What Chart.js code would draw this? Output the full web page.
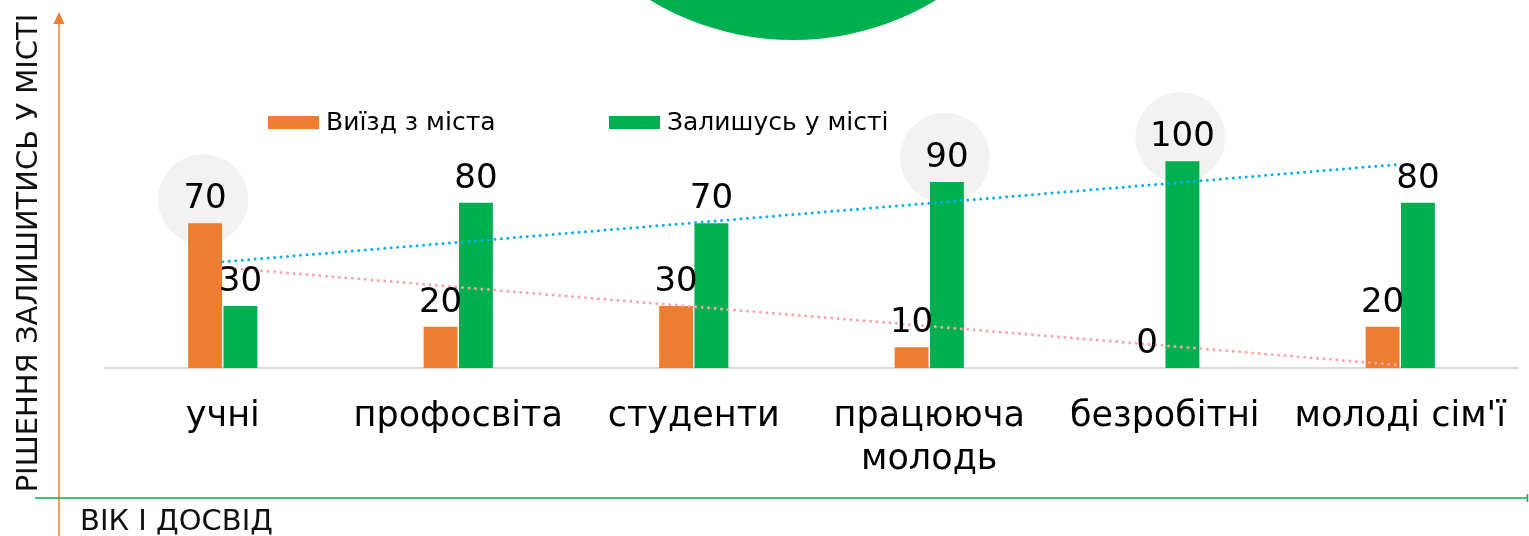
<!DOCTYPE html>
<html>
<head>
<meta charset="utf-8">
<script src="https://cdn.jsdelivr.net/npm/chart.js@4"></script>
<style>
  body { margin: 0; background: #fff; }
  #wrap { width: 1529px; height: 536px; }
</style>
</head>
<body>
<div id="wrap"><canvas id="chartCanvas" width="1529" height="536"></canvas></div>
<script>
// data
const categories = ['учні', 'профосвіта', 'студенти', ['працююча', 'молодь'], 'безробітні', 'молоді сім\'ї'];
const leaveCity = [70, 20, 30, 10, 0, 20];
const stayCity = [30, 80, 70, 90, 100, 80];
// dotted trend lines, only the ends
const leaveTrend = [48.6, null, null, null, null, 1.4];
const stayTrend = [51.4, null, null, null, null, 98.6];
// [dataset, index] of the values with a grey disc behind them
const highlighted = [[0, 0], [1, 3], [1, 4]];

const orange = '#ed7d31';
const green = '#00b050';
const fontName = '"DejaVu Sans", sans-serif';

// grey discs behind some labels, big green circle at the top
const backdrop = {
  id: 'backdrop',
  beforeDraw(chart) {
    const ctx = chart.ctx;
    ctx.save();
    ctx.fillStyle = green;
    ctx.beginPath();
    ctx.arc(793, -236, 276, 0, Math.PI * 2);
    ctx.fill();
    ctx.restore();
  },
  beforeDatasetsDraw(chart) {
    const ctx = chart.ctx;
    ctx.save();
    ctx.fillStyle = '#f2f2f2';
    highlighted.forEach(([d, i]) => {
      const bar = chart.getDatasetMeta(d).data[i];
      ctx.beginPath();
      ctx.arc(bar.x - 2, bar.y - 24, 45, 0, Math.PI * 2);
      ctx.fill();
    });
    ctx.restore();
  }
};

// value labels above the bars, legend and the hand-drawn axes
const overlay = {
  id: 'overlay',
  afterDatasetsDraw(chart) {
    const ctx = chart.ctx;
    ctx.save();
    ctx.font = '34px ' + fontName;
    ctx.fillStyle = '#000';
    ctx.textAlign = 'center';
    ctx.textBaseline = 'alphabetic';
    [0, 1].forEach(d => {
      const meta = chart.getDatasetMeta(d);
      meta.data.forEach((bar, i) => {
        ctx.fillText(String(chart.data.datasets[d].data[i]), bar.x, bar.y - 15);
      });
    });
    ctx.restore();
  },
  afterDraw(chart) {
    const ctx = chart.ctx;
    ctx.save();

    // legend
    ctx.font = '25px ' + fontName;
    ctx.textBaseline = 'middle';
    ctx.textAlign = 'left';
    [[268, 0], [609, 1]].forEach(([x, d]) => {
      const ds = chart.data.datasets[d];
      ctx.fillStyle = ds.backgroundColor;
      ctx.fillRect(x, 116, 51, 13);
      ctx.fillStyle = '#000';
      ctx.fillText(ds.label, x + 58, 123);
    });

    // vertical arrow
    ctx.strokeStyle = orange;
    ctx.fillStyle = orange;
    ctx.lineWidth = 1.5;
    ctx.beginPath();
    ctx.moveTo(59, 22);
    ctx.lineTo(59, 536);
    ctx.stroke();
    ctx.beginPath();
    ctx.moveTo(59, 12);
    ctx.lineTo(64.5, 24);
    ctx.lineTo(53.5, 24);
    ctx.closePath();
    ctx.fill();

    // horizontal arrow
    ctx.strokeStyle = green;
    ctx.beginPath();
    ctx.moveTo(35, 498);
    ctx.lineTo(1527, 498);
    ctx.stroke();
    ctx.beginPath();
    ctx.moveTo(1527.5, 494);
    ctx.lineTo(1527.5, 502);
    ctx.stroke();

    // axis titles
    ctx.fillStyle = '#111';
    ctx.font = '29px ' + fontName;
    ctx.textAlign = 'left';
    ctx.textBaseline = 'alphabetic';
    ctx.fillText('ВІК І ДОСВІД', 80, 530);

    ctx.translate(37, 253);
    ctx.rotate(-Math.PI / 2);
    ctx.font = '29px ' + fontName;
    ctx.textAlign = 'center';
    ctx.fillText('РІШЕННЯ ЗАЛИШИТИСЬ У МІСТІ', 0, 0);
    ctx.restore();
  }
};

const ctx = document.getElementById('chartCanvas').getContext('2d');
const chart = new Chart(ctx, {
  type: 'bar',
  data: {
    labels: categories,
    datasets: [
      {
        label: 'Виїзд з міста',
        data: leaveCity,
        backgroundColor: orange,
        categoryPercentage: 0.3,
        barPercentage: 0.96,
        order: 2
      },
      {
        label: 'Залишусь у місті',
        data: stayCity,
        backgroundColor: green,
        categoryPercentage: 0.3,
        barPercentage: 0.96,
        order: 2
      },
      {
        type: 'line',
        label: 'trend leave',
        data: leaveTrend,
        spanGaps: true,
        borderColor: '#ffa3a3',
        borderWidth: 3,
        borderDash: [0, 6.5],
        borderCapStyle: 'round',
        pointRadius: 0,
        order: 1
      },
      {
        type: 'line',
        label: 'trend stay',
        data: stayTrend,
        spanGaps: true,
        borderColor: '#00b0f0',
        borderWidth: 3,
        borderDash: [0, 6.5],
        borderCapStyle: 'round',
        pointRadius: 0,
        order: 1
      }
    ]
  },
  options: {
    responsive: false,
    animation: false,
    layout: { padding: { left: 105, right: 11, top: 120, bottom: 0 } },
    plugins: {
      legend: { display: false },
      tooltip: { enabled: false }
    },
    scales: {
      x: {
        grid: { display: false, drawTicks: false },
        border: { display: true, color: '#d9d9d9', width: 2 },
        ticks: {
          color: '#000',
          padding: 28,
          maxRotation: 0,
          autoSkip: false,
          font: { family: fontName, size: 35, lineHeight: 1.22 }
        },
        afterFit(scale) {
          scale.height = 168;
          scale.paddingLeft = 0;
          scale.paddingRight = 0;
        }
      },
      y: {
        display: false,
        min: 0,
        max: 120
      }
    }
  },
  plugins: [backdrop, overlay]
});
</script>
</body>
</html>
